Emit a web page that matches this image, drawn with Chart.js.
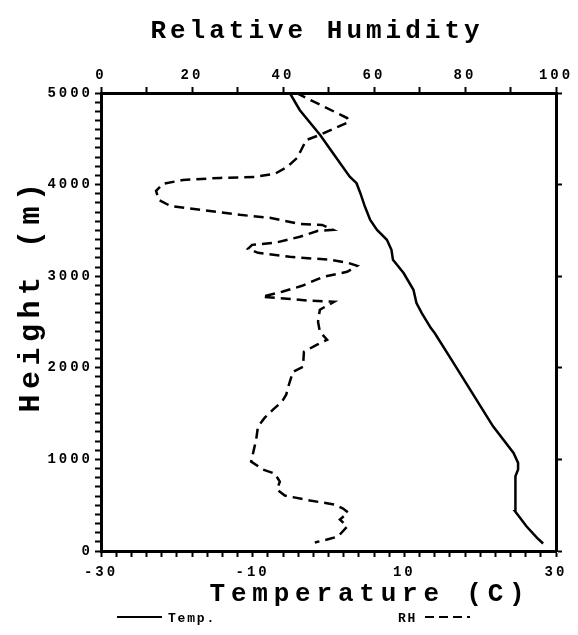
<!DOCTYPE html>
<html>
<head>
<meta charset="utf-8">
<script src="https://cdn.jsdelivr.net/npm/chart.js@4/dist/chart.umd.min.js"></script>
<style>
  html, body { margin: 0; padding: 0; background: #fff; }
  #wrap { width: 578px; height: 635px; }
</style>
</head>
<body>
<div id="wrap"><canvas id="c" width="578" height="635"></canvas></div>
<script>
// Temperature profile (height in m, temperature in C)
const tempHeights = [82, 144, 270, 434, 635, 816, 889, 962, 1071, 1361, 1652, 2052, 2379, 2434, 2598, 2707, 2852, 3034, 3179, 3288, 3397, 3506, 3615, 3760, 3906, 4015, 4087, 4342, 4542, 4815, 5000];
const tempValues  = [28.3, 27.5, 26.1, 24.6, 24.7, 24.6, 25.0, 25.0, 24.4, 21.7, 19.5, 16.5, 14.0, 13.5, 12.3, 11.6, 11.2, 9.9, 8.5, 8.3, 7.7, 6.4, 5.5, 4.8, 4.2, 3.7, 2.8, 0.6, -1.1, -3.8, -5.1];

// Relative humidity profile (height in m, RH in %)
const rhHeights = [5000, 4727, 4684, 4542, 4487, 4378, 4291, 4193, 4117, 4084, 4073, 4051, 4007, 3931, 3833, 3768, 3724, 3670, 3637, 3571, 3560, 3506, 3495, 3430, 3364, 3342, 3299, 3255, 3212, 3179, 3146, 3113, 3048, 2993, 2895, 2830, 2775, 2754, 2732, 2721, 2634, 2503, 2394, 2306, 2252, 2176, 2012, 1957, 1816, 1707, 1631, 1543, 1456, 1358, 1216, 1107, 976, 889, 845, 758, 671, 605, 551, 507, 463, 420, 344, 267, 158, 125, 93];
const rhValues  = [42.9, 54.1, 54.5, 48.1, 45.1, 44.0, 43.1, 40.9, 38.2, 33.8, 26.2, 18.0, 13.6, 12.1, 12.7, 15.2, 21.8, 30.5, 37.1, 43.7, 48.6, 51.0, 47.7, 43.7, 38.2, 33.2, 32.3, 34.5, 41.5, 50.3, 54.3, 56.3, 54.1, 48.8, 44.2, 39.8, 35.4, 40.9, 45.9, 51.2, 48.1, 47.7, 48.1, 49.7, 47.5, 44.6, 44.4, 42.2, 41.3, 40.7, 39.8, 37.8, 36.0, 34.5, 34.1, 33.6, 33.0, 35.6, 38.2, 39.3, 38.7, 40.4, 45.9, 51.4, 53.2, 54.3, 52.5, 54.1, 52.1, 49.7, 47.0];

// Labelled tick values
const tempTickLabels = [-30, -10, 10, 30];
const rhTickLabels = [0, 20, 40, 60, 80, 100];
const heightTickLabels = [0, 1000, 2000, 3000, 4000, 5000];

const FONT = "'Liberation Mono', 'DejaVu Sans Mono', monospace";
const tickFont = { family: FONT, weight: 'bold', size: 14 };

function axisCommon(extra) {
  return Object.assign({
    border: { display: true, color: '#000', width: 3 },
    grid: { drawOnChartArea: false, drawTicks: true, tickLength: 6, tickColor: '#000', tickWidth: 2 }
  }, extra);
}

// Spaced plotter-style lettering for tick labels
const spacing = {
  id: 'spacing',
  beforeDraw(chart) { chart.ctx.letterSpacing = '3px'; }
};

// Chart title, axis titles and the line-style key
const annotations = {
  id: 'annotations',
  afterDraw(chart) {
    const ctx = chart.ctx;
    ctx.save();
    ctx.fillStyle = '#000';
    ctx.textBaseline = 'alphabetic';
    ctx.textAlign = 'center';

    ctx.font = `bold 26px ${FONT}`;
    ctx.letterSpacing = '4px';
    ctx.fillText('Relative Humidity', 317, 38);

    ctx.letterSpacing = '5.8px';
    ctx.fillText('Temperature (C)', 370, 601);

    ctx.save();
    ctx.translate(39, 295);
    ctx.rotate(-Math.PI / 2);
    ctx.font = `bold 30px ${FONT}`;
    ctx.letterSpacing = '5.5px';
    ctx.fillText('Height (m)', 0, 0);
    ctx.restore();

    // key
    ctx.strokeStyle = '#000';
    ctx.lineWidth = 2;
    ctx.setLineDash([]);
    ctx.beginPath(); ctx.moveTo(117, 617); ctx.lineTo(162, 617); ctx.stroke();
    ctx.setLineDash([9, 5]);
    ctx.beginPath(); ctx.moveTo(425, 617); ctx.lineTo(470, 617); ctx.stroke();
    ctx.setLineDash([]);

    ctx.font = `bold 13px ${FONT}`;
    ctx.letterSpacing = '1.8px';
    ctx.textAlign = 'left';
    ctx.fillText('Temp.', 168, 622);
    ctx.fillText('RH', 398, 622);
    ctx.restore();
  }
};

new Chart(document.getElementById('c'), {
  type: 'scatter',
  data: {
    datasets: [
      {
        label: 'Temp.',
        data: tempHeights.map((h, i) => ({ x: tempValues[i], y: h })),
        showLine: true,
        borderColor: '#000',
        borderWidth: 2.5,
        pointRadius: 0,
        tension: 0,
        xAxisID: 'x',
        yAxisID: 'y'
      },
      {
        label: 'RH',
        data: rhHeights.map((h, i) => ({ x: rhValues[i], y: h })),
        showLine: true,
        borderColor: '#000',
        borderWidth: 2.5,
        borderDash: [10, 6],
        pointRadius: 0,
        tension: 0,
        xAxisID: 'x2',
        yAxisID: 'y'
      }
    ]
  },
  options: {
    responsive: false,
    animation: false,
    devicePixelRatio: 1,
    layout: { padding: 0 },
    plugins: {
      legend: { display: false },
      title: { display: false },
      tooltip: { enabled: false }
    },
    scales: {
      x: axisCommon({
        type: 'linear', position: 'bottom', min: -30, max: 30,
        ticks: {
          stepSize: 2, autoSkip: false, maxRotation: 0, color: '#000', font: tickFont, padding: 7,
          callback: v => tempTickLabels.includes(Math.round(v)) && Math.abs(v - Math.round(v)) < 1e-6 ? String(Math.round(v)) : ''
        },
        afterFit: s => { s.height = 84; }
      }),
      x2: axisCommon({
        type: 'linear', position: 'top', axis: 'x', min: 0, max: 100,
        ticks: {
          stepSize: 10, autoSkip: false, maxRotation: 0, color: '#000', font: tickFont, padding: 3,
          callback: v => rhTickLabels.includes(v) ? String(v) : ''
        },
        afterFit: s => { s.height = 93; }
      }),
      y: axisCommon({
        type: 'linear', position: 'left', min: 0, max: 5000,
        ticks: {
          stepSize: 100, autoSkip: false, color: '#000', font: tickFont, padding: 2,
          callback: v => heightTickLabels.includes(v) ? String(v) : ''
        },
        afterFit: s => { s.width = 101; }
      }),
      y2: axisCommon({
        type: 'linear', position: 'right', axis: 'y', min: 0, max: 5000,
        ticks: { stepSize: 1000, autoSkip: false, callback: () => '' },
        afterFit: s => { s.width = 22; }
      })
    }
  },
  plugins: [spacing, annotations]
});
</script>
</body>
</html>
